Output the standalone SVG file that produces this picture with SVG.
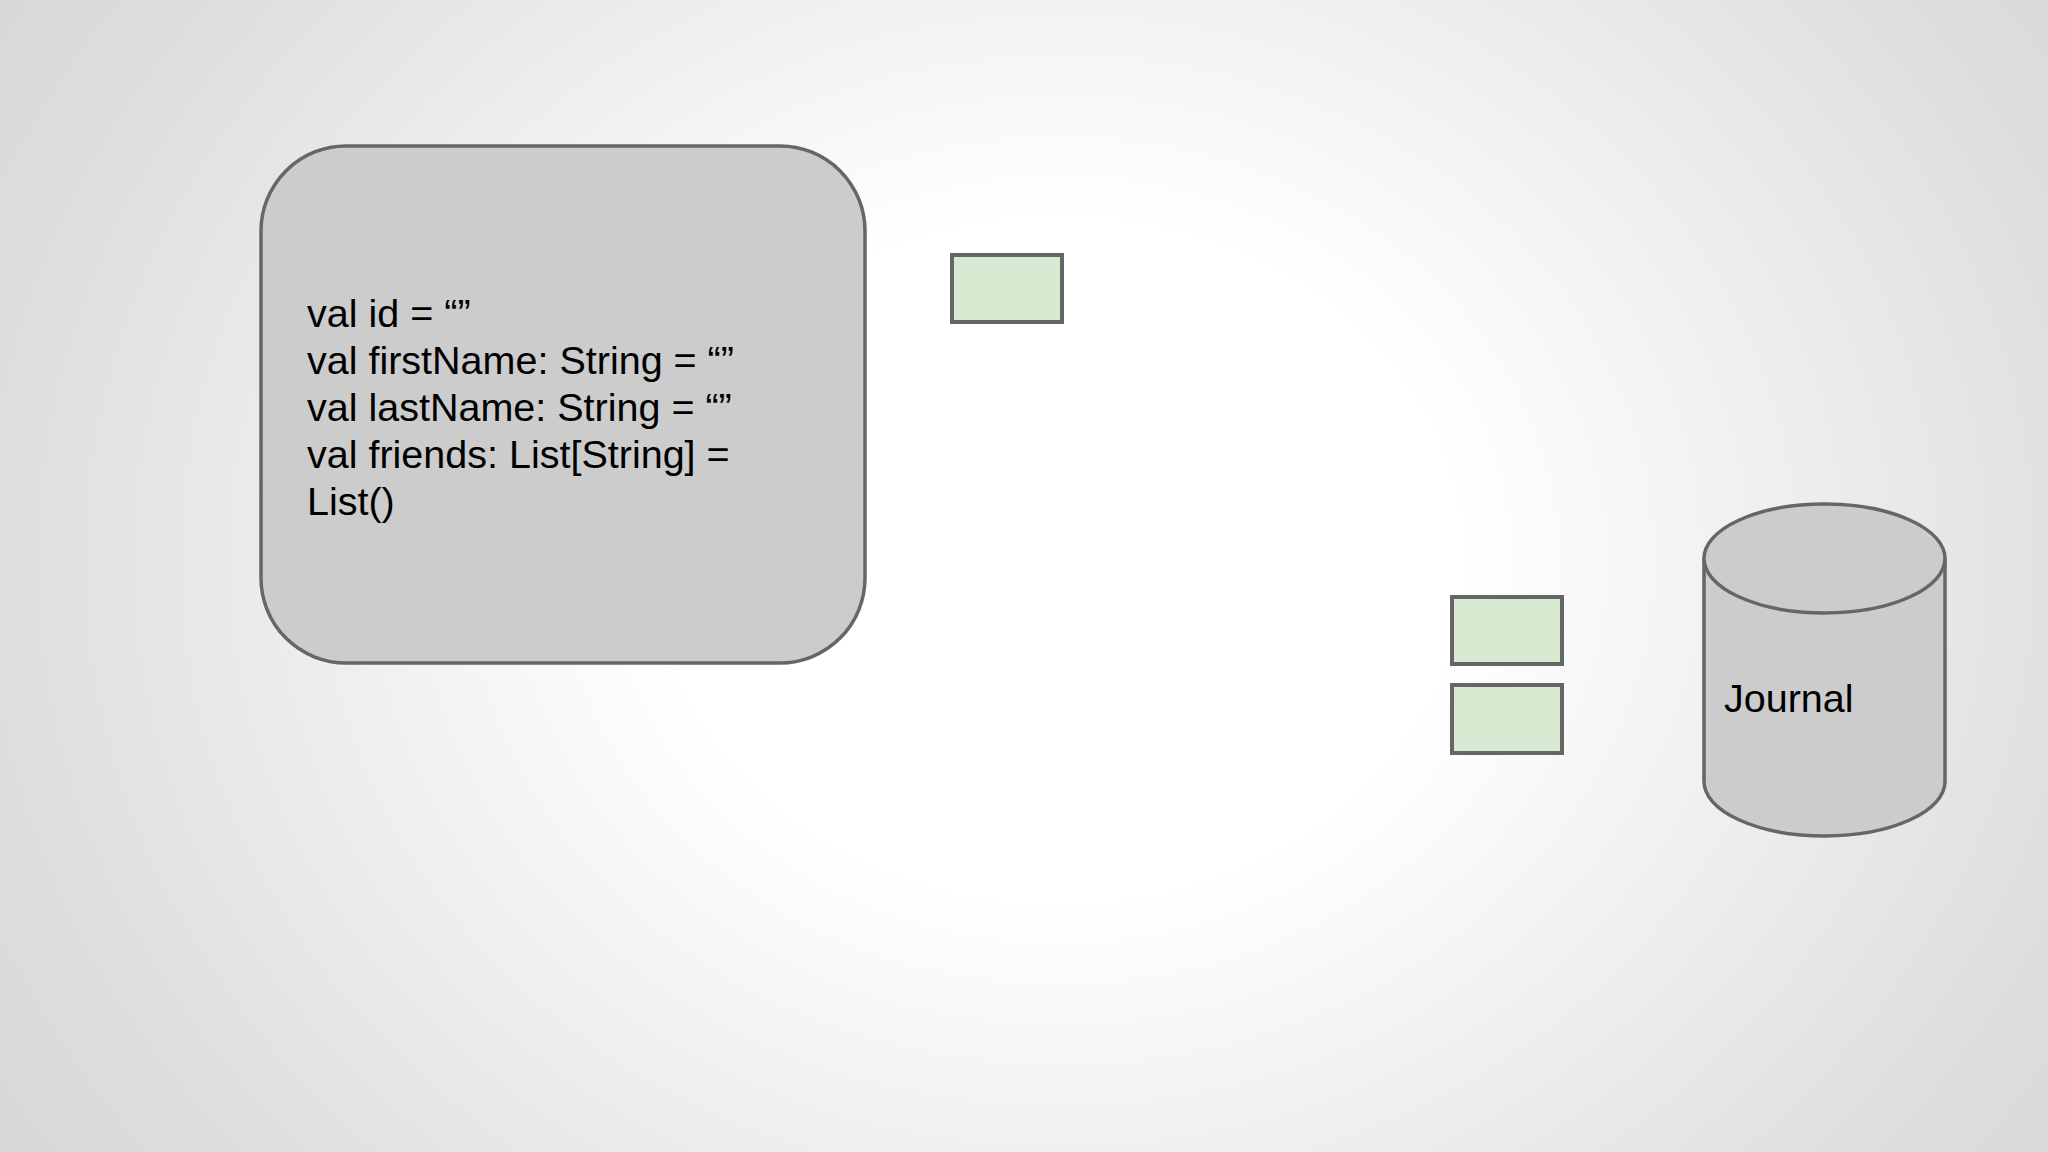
<svg xmlns="http://www.w3.org/2000/svg" width="2048" height="1152" viewBox="0 0 2048 1152">
<defs>
<radialGradient id="bg" cx="1060" cy="560" r="1250" gradientUnits="userSpaceOnUse" gradientTransform="translate(1060 560) scale(1 0.85) translate(-1060 -560)">
<stop offset="0" stop-color="#ffffff"/>
<stop offset="0.32" stop-color="#ffffff"/>
<stop offset="0.85" stop-color="#dedede"/>
<stop offset="1" stop-color="#d8d8d8"/>
</radialGradient>
<style>
.box{fill:#cccccc;stroke:#666666;stroke-width:3.5}
.g{fill:#d9ead3;stroke:#666666;stroke-width:4}
.t{font-family:"Liberation Sans",Arial,sans-serif;font-size:39.5px;fill:#000000}
</style>
</defs>
<rect x="0" y="0" width="2048" height="1152" fill="url(#bg)"/>
<g id="connectors"></g>
<g id="model">
<rect class="box" x="261" y="146" width="604" height="517" rx="85" ry="85"/>
<text class="t" x="307" y="326">
<tspan x="307" y="327">val id = “”</tspan>
<tspan x="307" y="374">val firstName: String = “”</tspan>
<tspan x="307" y="421">val lastName: String = “”</tspan>
<tspan x="307" y="468">val friends: List[String] =</tspan>
<tspan x="307" y="515">List()</tspan>
</text>
</g>
<g id="msg1"><rect class="g" x="952" y="255" width="110" height="67"/></g>
<g id="msg2"><rect class="g" x="1452" y="597" width="110" height="67"/></g>
<g id="msg3"><rect class="g" x="1452" y="685" width="110" height="68"/></g>
<g id="journal">
<path class="box" d="M1704 558.5 L1704 781.5 A120.5 54.5 0 0 0 1945 781.5 L1945 558.5 A120.5 54.5 0 0 0 1704 558.5 Z"/>
<path class="box" d="M1704 558.5 A120.5 54.5 0 0 0 1945 558.5" fill="none"/>
<text class="t" x="1724" y="712">Journal</text>
</g>
</svg>
